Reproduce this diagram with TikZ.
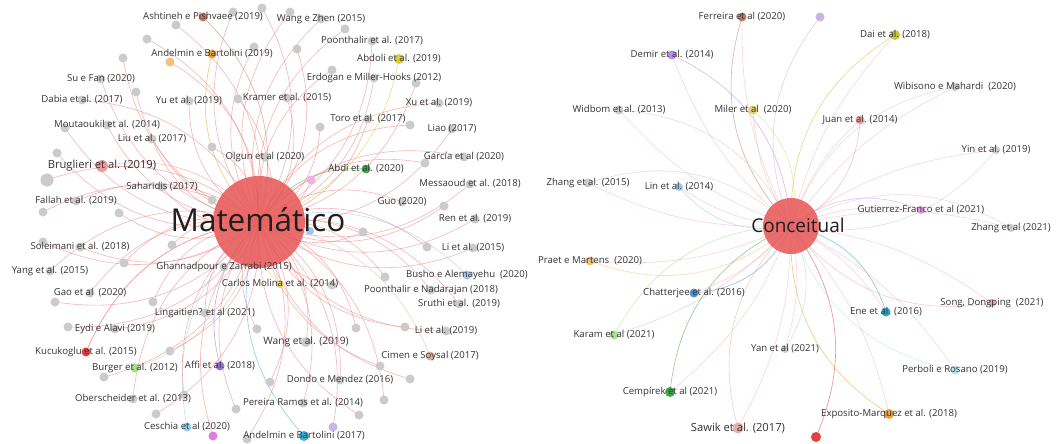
\documentclass[tikz,border=0pt]{standalone}
\usepackage{fontspec}
\setmainfont{Open Sans}
\pgfdeclarelayer{paper}
\pgfdeclarelayer{edges}
\pgfsetlayers{paper,edges,main}
% node colours
\definecolor{ngray}{HTML}{CBCBCB}
\definecolor{hubred}{HTML}{E85A5A}
\definecolor{ered}{HTML}{EE8585}
\definecolor{cbrown}{HTML}{C97A65}
\definecolor{corange}{HTML}{EAA23A}
\definecolor{clorange}{HTML}{F2C27A}
\definecolor{cyellow}{HTML}{D6D23A}
\definecolor{csalmon}{HTML}{EE9A98}
\definecolor{cgreen}{HTML}{3FAA4A}
\definecolor{cpinkl}{HTML}{EFB1E0}
\definecolor{clblue}{HTML}{9CC6EC}
\definecolor{cpaleyellow}{HTML}{E3D46A}
\definecolor{cred}{HTML}{E3413F}
\definecolor{ctan}{HTML}{E0B4A2}
\definecolor{clgreen}{HTML}{A9DF92}
\definecolor{cpurple}{HTML}{9A72D6}
\definecolor{cskyblue}{HTML}{93D1F0}
\definecolor{clavender}{HTML}{CBB4E6}
\definecolor{cmagenta}{HTML}{E27BE2}
\definecolor{ccyan}{HTML}{3AAED6}
\definecolor{cviolet}{HTML}{B98AE8}
\definecolor{colive}{HTML}{C9C634}
\definecolor{cpinkred}{HTML}{EE9F9F}
\definecolor{cpink}{HTML}{E597DD}
\definecolor{cpinktwo}{HTML}{E8A8C8}
\definecolor{cblue}{HTML}{4D93D6}
\definecolor{cteal}{HTML}{2EA5C5}
\definecolor{cpalecyan}{HTML}{B0E4EE}
\definecolor{csalmontwo}{HTML}{E2B2AB}
\definecolor{cbrowntwo}{HTML}{C27A6A}
\definecolor{labelgray}{HTML}{333333}

% labelled nodes of the left cluster: name/x/y/colour/diameter/label style/text
\def\Lnodes{%
a1/203/17/cbrown/9/lbl/{Ashtineh e Pishvaee (2019)},%
a2/321/19/ngray/9/lbl/{Wang e Zhen (2015)},%
a3/372/41/ngray/9/lbl/{Poonthalir et al. (2017)},%
a4/212/54/corange/9/lbl/{Andelmin e Bartolini (2019)},%
a5/399/59/cyellow/10/lbl/{Abdoli et al. (2019)},%
a6/101/79/ngray/9/lbl/{Su e Fan (2020)},%
a7/374/78/ngray/9/lbl/{Erdogan e Miller-Hooks (2012)},%
a8/82/100/ngray/9/lbl/{Dabia et al. (2017)},%
a9/189/101/ngray/9/lbl/{Yu et al. (2019)},%
a10/287/98/ngray/9/lbl/{Kramer et al. (2015)},%
a11/439/103/ngray/9/lbl/{Xu et al. (2019)},%
a12/368/119/ngray/9/lbl/{Toro et al. (2017)},%
a13/107/125/ngray/9/lbl/{Moutaoukil et al. (2014)},%
a14/452/129/ngray/9/lbl/{Liao (2017)},%
a15/152/139/ngray/9/lbl/{Liu et al. (2017)},%
a16/265/157/ngray/9/lbl/{Olgun et al (2020)},%
a17/464/157/ngray/9/lbl/{García et al (2020)},%
a18/102/166/csalmon/12/lblbig/{Bruglieri et al. (2019)},%
a19/366/169/cgreen/9/lbl/{Abdi et al. (2020)},%
a20/470/184/ngray/9/lbl/{Messaoud et al. (2018)},%
a21/162/187/ngray/9/lbl/{Saharidis (2017)},%
a22/76/201/ngray/9/lbl/{Fallah et al. (2019)},%
a23/402/202/ngray/9/lbl/{Guo (2020)},%
a24/475/219/ngray/9/lbl/{Ren et al. (2019)},%
a25/80/247/ngray/9/lbl/{Soleimani et al. (2018)},%
a26/473/248/ngray/9/lbl/{Li et al. (2015)},%
a27/224/267/ngray/9/lbl/{Ghannadpour e Zarrabi (2015)},%
a28/50/271/ngray/9/lbl/{Yang et al. (2015)},%
a29/467/275/clblue/9/lbl/{Busho e Alemayehu\ \ (2020)},%
a30/280/284/cpaleyellow/8/lbl/{Carlos Molina et al. (2014)},%
a31/431/290/ngray/9/lbl/{Poonthalir e Nadarajan (2018)},%
a32/90/293/ngray/9/lbl/{Gao et al\ \ (2020)},%
a33/459/304/ngray/9/lbl/{Sruthi et al. (2019)},%
a34/205/313/ngray/9/lbl/{Lingaitien? et al (2021)},%
a35/115/329/ngray/9/lbl/{Eydi e Alavi (2019)},%
a36/446/331/ngray/9/lbl/{Li et al. (2019)},%
a37/306/342/ngray/10/lblmid/{Wang et al. (2019)},%
a38/86/352/cred/9/lbl/{Kucukoglu et al. (2015)},%
a39/430/356/ctan/9/lbl/{Cimen e Soysal (2017)},%
a40/135/368/clgreen/9/lbl/{Burger et al. (2012)},%
a41/220/366/cpurple/9/lbl/{Affi et al. (2018)},%
a42/340/380/ngray/9/lbl/{Dondo e Mendez (2016)},%
a43/133/399/ngray/9/lbl/{Oberscheider et al. (2013)},%
a44/303/403/ngray/9/lbl/{Pereira Ramos et al. (2014)},%
a45/187/427/cskyblue/9/lbl/{Ceschia et al (2020)},%
a46/304/436/ccyan/10/lbl/{Andelmin e Bartolini (2017)}}

% unlabelled nodes of the left cluster: name/x/y/colour/diameter/bend
\def\Lfree{%
u1/233/12/ngray/9/bl,u2/262/8/ngray/9/br,u3/290/12/ngray/9/bl,u4/176/25/ngray/9/br,%
u5/345/29/ngray/9/bl,u6/147/39/ngray/9/br,u7/254/47/ngray/9/bl,u8/297/49/ngray/9/br,%
u9/123/58/ngray/9/bl,u10/170/62/clorange/9/br,u11/332/70/ngray/9/bl,u12/416/83/ngray/9/br,%
u13/136/92/ngray/9/bl,u14/238/99/ngray/9/br,u15/65/128/ngray/9/bl,u16/320/127/ngray/9/br,%
u17/410/125/ngray/9/bl,u18/212/147/ngray/9/br,u19/57/153/ngray/9/bl,u20/47/180/ngray/13/br,%
u21/425/163/ngray/9/bl,u22/311/180/cpinkl/9/br,u23/212/200/ngray/9/bl,u24/43/212/ngray/9/br,%
u25/119/213/ngray/9/bl,u26/444/206/ngray/9/br,u27/310/231/clblue/8/bl,u28/363/232/ngray/9/br,%
u29/43/242/ngray/9/bl,u30/172/245/ngray/9/br,u31/427/247/ngray/9/bl,u32/124/263/ngray/9/br,%
u33/385/277/ngray/9/bl,u34/332/285/ngray/9/br,u35/55/302/ngray/9/bl,u36/153/302/ngray/9/br,%
u37/68/327/ngray/9/bl,u38/257/329/ngray/9/br,u39/356/328/ngray/9/bl,u40/405/327/ngray/9/br,%
u41/170/351/ngray/9/bl,u42/380/366/ngray/9/br,u43/104/377/ngray/9/bl,u44/410/379/ngray/9/br,%
u45/270/382/ngray/9/bl,u46/184/395/ngray/9/br,u47/384/400/ngray/9/bl,u48/236/409/ngray/9/br,%
u49/156/414/ngray/9/bl,u50/359/415/ngray/9/br,u51/333/427/clavender/9/bl,u52/213/436/cmagenta/9/br,%
u53/247/439/ngray/9/bl}

% links of the labelled left nodes: name/colour/bend
\def\Ledges{%
a1/cbrown/br,a2/ered/bl,a3/ered/br,a4/corange/bl,a5/cyellow/br,a6/ered/bl,a7/ered/br,%
a8/ered/br,a9/ered/bl,a10/ered/br,a11/ered/bl,a12/ered/br,a13/ered/bl,a14/ered/br,%
a15/ered/bl,a16/ered/br,a17/ered/bl,a18/csalmon/br,a19/cgreen/bl,a20/ered/br,a21/ered/bl,%
a22/ered/br,a23/ered/bl,a24/ered/br,a25/ered/bl,a26/ered/br,a27/ered/bl,a28/ered/br,%
a29/clblue/bl,a30/cpaleyellow/br,a31/ered/bl,a32/ered/br,a33/ered/bl,a34/ered/br,%
a35/ered/bl,a36/ered/br,a37/ered/bl,a38/cred/br,a39/ctan/bl,a40/clgreen/bl,a41/cpurple/br,%
a42/ered/bl,a43/ered/br,a44/ered/bl,a45/cskyblue/br,a46/ccyan/br}

% right cluster: name/x/y/colour/diameter/label style/bend/text
\def\Rnodes{%
b1/742/17/cbrowntwo/9/lbl/bl/{Ferreira et al (2020)},%
b3/895/35/colive/10/lbl/bl/{Dai et al. (2018)},%
b4/672/55/cviolet/9/lbl/br/{Demir et al. (2014)},%
b5/955/87/ngray/8/lbl/bl/{Wibisono e Mahardi\ \ (2020)},%
b6/619/110/ngray/9/lbl/br/{Widbom et al. (2013)},%
b7/753/110/cpaleyellow/9/lbl/br/{Miler et al\ \ (2020)},%
b8/860/120/cpinkred/9/lbl/br/{Juan et al. (2014)},%
b9/996/150/ngray/8/lbl/br/{Yin et al. (2019)},%
b10/588/183/ngray/9/lbl/br/{Zhang et al. (2015)},%
b11/679/187/clblue/8/lbl/bl/{Lin et al. (2014)},%
b12/921/210/cpink/8/lbl/bl/{Gutierrez-Franco et al (2021)},%
b13/1011/228/ngray/8/lbl/bl/{Zhang et al (2021)},%
b14/590/261/clorange/9/lbl/bl/{Praet e Martens\ \ (2020)},%
b15/694/293/cblue/9/lbl/bl/{Chatterjee et al. (2016)},%
b16/992/303/cpinktwo/8/lbl/br/{Song, Dongping\ \ (2021)},%
b17/886/312/cteal/9/lbl/bl/{Ene et al. (2016)},%
b18/614/335/clgreen/9/lbl/br/{Karam et al (2021)},%
b19/785/349/ngray/8/lbl/bl/{Yan et al (2021)},%
b20/955/370/cpalecyan/9/lbl/br/{Perboli e Rosano (2019)},%
b21/670/392/cgreen/10/lbl/br/{Cempírek et al (2021)},%
b22/889/414/corange/10/lbl/br/{Exposito-Marquez et al. (2018)},%
b23/738/428/csalmontwo/11/lblbig/br/{Sawik et al. (2017)}}

\tikzset{
  dot/.style={circle, inner sep=0pt, draw=none},
  lbl/.style={font=\fontsize{9.6}{10}\selectfont, text=labelgray, inner sep=0pt},
  lblmid/.style={font=\fontsize{10.2}{11}\selectfont, text=labelgray, inner sep=0pt},
  lblbig/.style={font=\fontsize{11.2}{12}\selectfont, text=labelgray, inner sep=0pt},
  link/.style={line width=0.6pt, draw opacity=0.6},
  bl/.style={bend left=30},
  br/.style={bend right=30},
  hub/.style={circle, inner sep=0pt, fill=hubred, fill opacity=0.88, draw=none},
}

\begin{document}
\begin{tikzpicture}[x=1pt,y=-1pt]
\useasboundingbox (0,0) rectangle (1057,444);
\begin{pgfonlayer}{paper}
\fill[white] (0,0) rectangle (1057,444);
\end{pgfonlayer}

% hubs
\node[hub, minimum size=92pt] (M) at (259,222) {};
\node[hub, minimum size=56pt] (C) at (791,226) {};

% left cluster nodes
\foreach \n/\x/\y/\c/\d/\s/\t in \Lnodes {
  \node[dot, fill=\c, minimum size=\d pt] (\n) at (\x,\y) {};
}
\foreach \n/\x/\y/\c/\d/\b in \Lfree {
  \node[dot, fill=\c, minimum size=\d pt] (\n) at (\x,\y) {};
}
% right cluster nodes
\foreach \n/\x/\y/\c/\d/\s/\b/\t in \Rnodes {
  \node[dot, fill=\c, minimum size=\d pt] (\n) at (\x,\y) {};
}
\node[dot, fill=clavender, minimum size=9pt] (b2) at (820,17) {};
\node[dot, fill=cred, minimum size=10pt] (b24) at (816,437) {};

% links, drawn beneath the nodes
\begin{pgfonlayer}{edges}
\foreach \n/\c/\b in \Ledges {
  \draw[link, draw=\c] (M.center) to[\b] (\n.center);
}
\foreach \n/\x/\y/\c/\d/\b in \Lfree {
  \draw[link, draw=ered] (M.center) to[\b] (\n.center);
}
\foreach \n/\x/\y/\c/\d/\s/\b/\t in \Rnodes {
  \draw[link, draw=\c] (C.center) to[\b] (\n.center);
  \draw[link, draw=ered, draw opacity=0.35] (C.center) to[\b, bend left=14] (\n.center);
}
\draw[link, draw=clavender] (C.center) to[bl] (b2.center);
\draw[link, draw=cred] (C.center) to[bl] (b24.center);
\end{pgfonlayer}

% labels on top
\foreach \n/\x/\y/\c/\d/\s/\t in \Lnodes {
  \node[\s] (\n-t) at (\n) {\t};
}
\foreach \n/\x/\y/\c/\d/\s/\b/\t in \Rnodes {
  \node[\s] (\n-t) at (\n) {\t};
}
\node[font=\fontsize{31.5}{32}\selectfont, text=black!88, inner sep=0pt] (M-t) at (258,220) {Matemático};
\node[font=\fontsize{19}{20}\selectfont, text=black!88, inner sep=0pt] (C-t) at (798,225) {Conceitual};
\end{tikzpicture}
\end{document}
